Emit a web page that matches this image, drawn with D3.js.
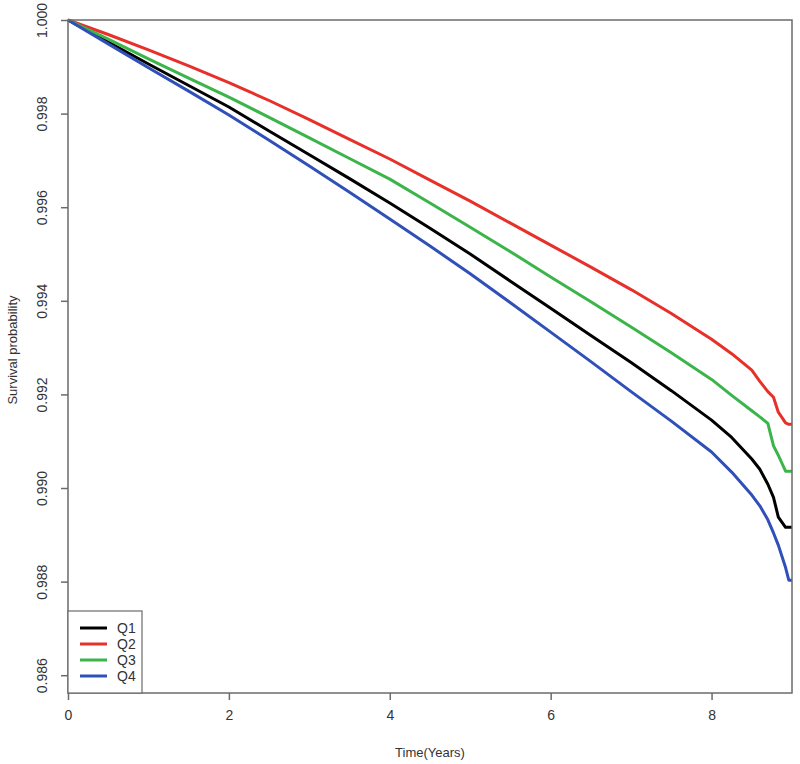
<!DOCTYPE html>
<html>
<head>
<meta charset="utf-8">
<script src="https://cdn.jsdelivr.net/npm/d3@7"></script>
<style>
  body { margin: 0; background: #fff; }
  svg { display: block; font-family: 'Liberation Sans', Arial, sans-serif; }
</style>
</head>
<body>
<div id="chart"></div>
<script>
// Time points (years) shared by all series
var times = [0, 0.5, 1, 1.5, 2, 2.5, 3, 3.5, 4, 4.5, 5, 5.5, 6, 6.5, 7, 7.5, 8,
             8.25, 8.5, 8.6, 8.7, 8.77, 8.83, 8.92, 8.96, 9.0];

var q1 = [1, 0.99953, 0.99906, 0.99860, 0.99814, 0.99763, 0.99712, 0.99661, 0.99609, 0.99555,
          0.99500, 0.99442, 0.99384, 0.99326, 0.99268, 0.99208, 0.99145,
          0.99108, 0.99062, 0.99040, 0.99008, 0.98980, 0.98938, 0.98916, 0.98916, 0.98916];
var q2 = [1, 0.99969, 0.99936, 0.99902, 0.99866, 0.99828, 0.99787, 0.99745, 0.99703, 0.99658,
          0.99613, 0.99566, 0.99519, 0.99472, 0.99424, 0.99373, 0.99318,
          0.99287, 0.99252, 0.99228, 0.99206, 0.99194, 0.99162, 0.99139, 0.99136, 0.99136];
var q3 = [1, 0.99959, 0.99917, 0.99876, 0.99835, 0.99792, 0.99748, 0.99704, 0.99660, 0.99609,
          0.99557, 0.99505, 0.99451, 0.99398, 0.99344, 0.99289, 0.99232,
          0.99198, 0.99165, 0.99152, 0.99138, 0.99090, 0.99070, 0.99036, 0.99036, 0.99036];
var q4 = [1, 0.99949, 0.99898, 0.99848, 0.99797, 0.99743, 0.99688, 0.99632, 0.99575, 0.99517,
          0.99458, 0.99396, 0.99333, 0.99270, 0.99206, 0.99143, 0.99077,
          0.99034, 0.98985, 0.98962, 0.98932, 0.98904, 0.98878, 0.98830, 0.98803, 0.98803];

var seriesNames = ['Q1', 'Q2', 'Q3', 'Q4'];
var seriesColors = ['#000000', '#e8302a', '#3bb54a', '#2f50b8'];
var seriesValues = [q1, q2, q3, q4];

var xTicks = [0, 2, 4, 6, 8];
var yTicks = [0.986, 0.988, 0.990, 0.992, 0.994, 0.996, 0.998, 1.000];

(function() {
    var width = 800, height = 764,
        plotLeft = 68, plotTop = 20, plotRight = 792, plotBottom = 693;

    var svg = d3.select('#chart').append('svg')
        .attr('width', width)
        .attr('height', height);

    var x = d3.scaleLinear()
        .domain([0, 9.0])
        .range([plotLeft, plotRight]);

    var y = d3.scaleLinear()
        .domain([0.98562, 1.0])
        .range([plotBottom, plotTop]);

    var line = d3.line()
        .x(function(d) { return x(d[0]); })
        .y(function(d) { return y(d[1]); });

    // curves
    seriesValues.forEach(function(vals, i) {
        var pts = times.map(function(t, j) { return [t, vals[j]]; });
        svg.append('path')
            .datum(pts)
            .attr('d', line)
            .attr('fill', 'none')
            .attr('stroke', seriesColors[i])
            .attr('stroke-width', 3)
            .attr('stroke-linejoin', 'round');
    });

    // plot box
    svg.append('rect')
        .attr('x', plotLeft)
        .attr('y', plotTop)
        .attr('width', plotRight - plotLeft)
        .attr('height', plotBottom - plotTop)
        .attr('fill', 'none')
        .attr('stroke', '#6b6b6b')
        .attr('stroke-width', 1.5);

    // axes
    var xAxis = d3.axisBottom(x)
        .tickValues(xTicks)
        .tickSize(7)
        .tickPadding(10)
        .tickFormat(d3.format('d'));

    var yAxis = d3.axisLeft(y)
        .tickValues(yTicks)
        .tickSize(7)
        .tickPadding(6)
        .tickFormat(d3.format('.3f'));

    var gx = svg.append('g')
        .attr('transform', 'translate(0,' + plotBottom + ')')
        .call(xAxis);
    gx.select('.domain').remove();

    var gy = svg.append('g')
        .attr('transform', 'translate(' + plotLeft + ',0)')
        .call(yAxis);
    gy.select('.domain').remove();

    svg.selectAll('.tick line').attr('stroke', '#6b6b6b').attr('stroke-width', 1.5);
    svg.selectAll('.tick text')
        .attr('fill', '#333')
        .style('font-size', '14px')
        .style('font-family', "'Liberation Sans', Arial, sans-serif");

    // rotated y tick labels, R style
    gy.selectAll('.tick text')
        .attr('x', null)
        .attr('dy', null)
        .attr('text-anchor', 'middle')
        .attr('transform', 'translate(-21,0) rotate(-90)');

    // axis titles
    svg.append('text')
        .attr('x', (plotLeft + plotRight) / 2)
        .attr('y', 757)
        .attr('text-anchor', 'middle')
        .attr('fill', '#333')
        .style('font-size', '13px')
        .text('Time(Years)');

    svg.append('text')
        .attr('transform', 'translate(17,350) rotate(-90)')
        .attr('text-anchor', 'middle')
        .attr('fill', '#333')
        .style('font-size', '13px')
        .text('Survival probability');

    // legend
    var legend = svg.append('g');
    legend.append('rect')
        .attr('x', plotLeft)
        .attr('y', 611)
        .attr('width', 142 - plotLeft)
        .attr('height', plotBottom - 611)
        .attr('fill', '#fff')
        .attr('stroke', '#6b6b6b')
        .attr('stroke-width', 1.2);

    seriesNames.forEach(function(name, i) {
        var ly = 628 + i * 16;
        legend.append('line')
            .attr('x1', 80).attr('x2', 107)
            .attr('y1', ly).attr('y2', ly)
            .attr('stroke', seriesColors[i])
            .attr('stroke-width', 3);
        legend.append('text')
            .attr('x', 117)
            .attr('y', ly + 5)
            .attr('fill', '#333')
            .style('font-size', '14px')
            .text(name);
    });
})();
</script>
</body>
</html>
